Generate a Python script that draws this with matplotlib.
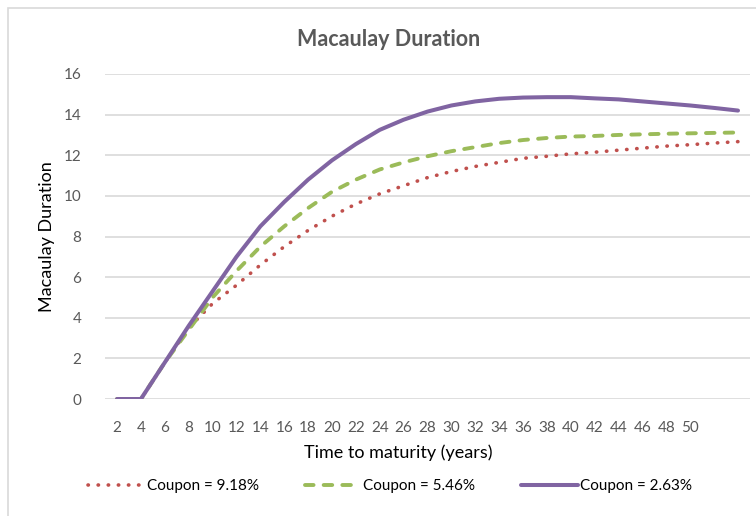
import numpy as np
import matplotlib.pyplot as plt
from matplotlib.patches import Rectangle

plt.rcParams['font.family'] = ['Lato', 'DejaVu Sans']

# time to maturity (years)
years = [2, 4, 6, 8, 10, 12, 14, 16, 18, 20, 22, 24, 26, 28,
         30, 32, 34, 36, 38, 40, 42, 44, 46, 48, 50, 52, 54]
tick_years = list(range(2, 51, 2))

dur_918 = [0, 0, 1.8, 3.5, 4.7, 5.6, 6.6, 7.5, 8.3, 9.0, 9.6, 10.1, 10.5, 10.9,
           11.2, 11.45, 11.65, 11.85, 11.95, 12.07, 12.15, 12.25, 12.35, 12.45,
           12.52, 12.6, 12.67]
dur_546 = [0, 0, 1.8, 3.4, 5.0, 6.3, 7.5, 8.5, 9.4, 10.2, 10.8, 11.3, 11.65, 11.95,
           12.2, 12.4, 12.6, 12.75, 12.85, 12.92, 12.95, 13.0, 13.03, 13.06,
           13.08, 13.1, 13.12]
dur_263 = [0, 0, 1.8, 3.6, 5.3, 7.0, 8.5, 9.7, 10.8, 11.75, 12.55, 13.25, 13.75, 14.15,
           14.45, 14.65, 14.78, 14.84, 14.86, 14.86, 14.8, 14.75, 14.65, 14.55,
           14.45, 14.33, 14.2]
labels = ['Coupon = 9.18%', 'Coupon = 5.46%', 'Coupon = 2.63%']

fig = plt.figure(figsize=(7.56, 5.16), dpi=100)
ax = fig.add_axes([0.139, 0.2267, 0.853, 0.6299])

# excel-like chart area border
fig.patches.append(Rectangle((8/756, -0.1), 1.2, 1 - 8/516 + 0.1, transform=fig.transFigure,
                             fill=False, edgecolor='#d9d9d9', linewidth=1.2))

ax.plot(years, dur_918, color='#C0504D', linestyle=(0, (0.1, 2.7)), linewidth=2.6,
        dash_capstyle='round', label=labels[0])
ax.plot(years, dur_546, color='#9BBB59', linestyle=(0, (2.2, 2.6)), linewidth=2.8,
        dash_capstyle='round', label=labels[1])
ax.plot(years, dur_263, color='#8064A2', linewidth=2.9, solid_capstyle='round',
        label=labels[2])

ax.set_xlim(1, 55)
ax.set_ylim(0, 16)
ax.set_xticks(tick_years)
ax.set_yticks(range(0, 17, 2))
ax.grid(axis='y', color='#d9d9d9', linewidth=1.2)
ax.set_axisbelow(True)
for s in ax.spines.values():
    s.set_visible(False)
ax.tick_params(length=0, labelsize=11, labelcolor='#595959')
ax.tick_params(axis='x', pad=16)
ax.tick_params(axis='y', pad=17)

fig.text(389/756, 1 - 40/516, 'Macaulay Duration', fontsize=15.5, fontweight='bold',
         color='#595959', ha='center', va='center')
fig.text(398/756, 1 - 453/516, 'Time to maturity (years)', fontsize=13,
         ha='center', va='center')
ax.set_ylabel('Macaulay Duration', fontsize=13, labelpad=6)

fig.legend(loc='center', bbox_to_anchor=(390/756, 1 - 486/516), ncol=3, frameon=False,
           fontsize=11, handlelength=3.7, handletextpad=0.15, columnspacing=3.0)

fig.savefig('out.png', dpi=100)
